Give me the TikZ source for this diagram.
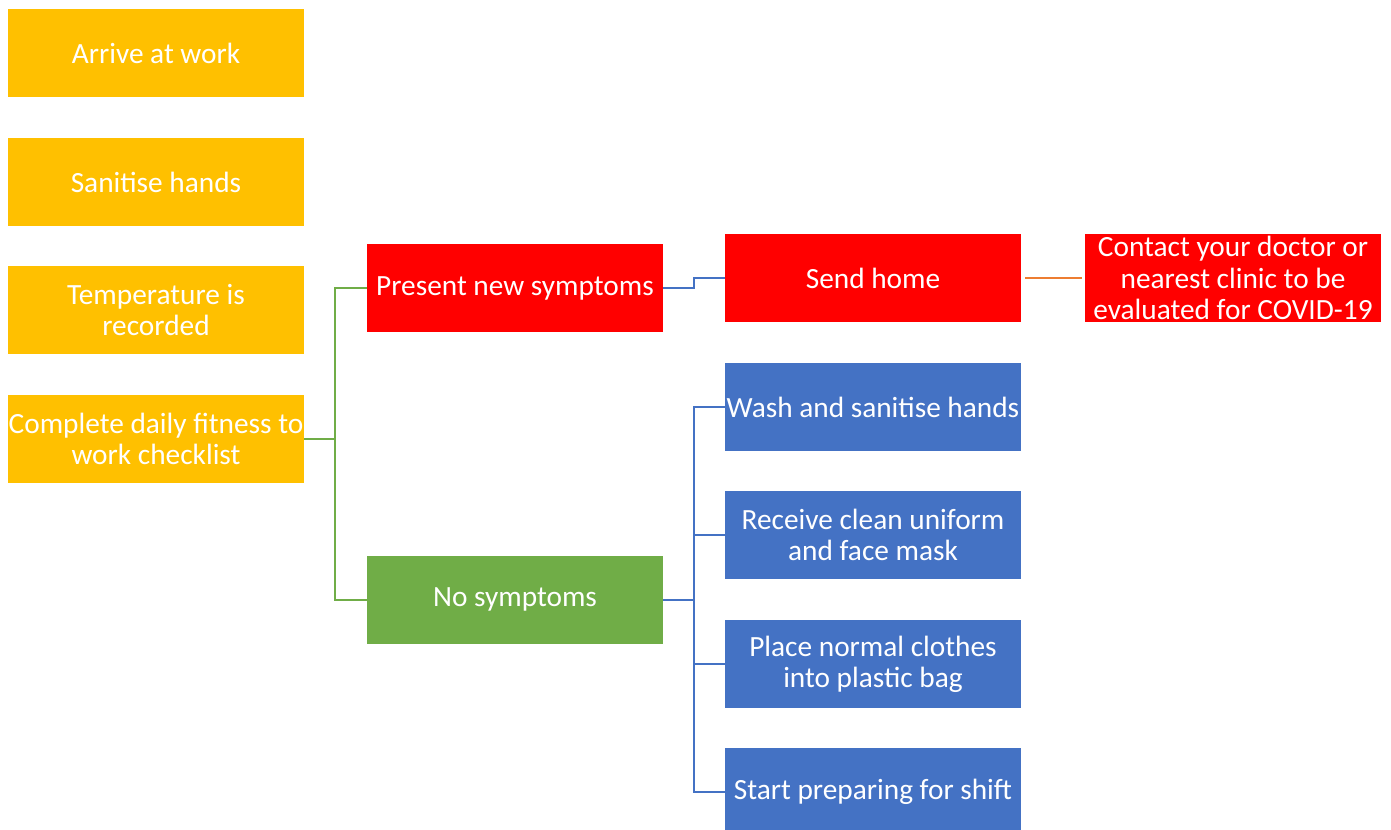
\documentclass[tikz,border=0pt]{standalone}
\usepackage{fontspec}
\setmainfont{Carlito}
\definecolor{boxorange}{HTML}{FFC000}
\definecolor{boxred}{HTML}{FF0000}
\definecolor{boxgreen}{HTML}{70AD47}
\definecolor{boxblue}{HTML}{4472C4}
\definecolor{lineorange}{HTML}{ED7D31}
\begin{document}
\begin{tikzpicture}[x=0.75pt,y=-0.75pt,
	box/.style={minimum width=222pt,minimum height=66pt,inner sep=0pt,align=center,text=white,
		font=\fontsize{22pt}{23.5pt}\selectfont},
	link/.style={line width=1.5pt}]
	\useasboundingbox (0,0) rectangle (1391,830);
	% arrival steps
	\node[box,fill=boxorange] (arrive) at (156,53) {Arrive at work};
	\node[box,fill=boxorange] (sanitise) at (156,182) {Sanitise hands};
	\node[box,fill=boxorange] (temp) at (156,310) {Temperature is\\recorded};
	\node[box,fill=boxorange] (check) at (156,439) {Complete daily fitness to\\work checklist};
	% outcome
	\node[box,fill=boxred] (present) at (515,288) {Present new symptoms};
	\node[box,fill=boxgreen] (nosym) at (515,599.5) {No symptoms};
	\node[box,fill=boxred] (home) at (873,278) {Send home};
	\node[box,fill=boxred] (contact) at (1233,278) {Contact your doctor or\\nearest clinic to be\\evaluated for COVID-19};
	\node[box,fill=boxblue] (wash) at (873,407) {Wash and sanitise hands};
	\node[box,fill=boxblue] (uniform) at (873,535) {Receive clean uniform\\and face mask};
	\node[box,fill=boxblue] (bag) at (873,664) {Place normal clothes\\into plastic bag};
	\node[box,fill=boxblue] (shift) at (873,792) {Start preparing for shift};
	% connectors
	\draw[link,boxgreen] (check.east) -- ++(31,0) coordinate (gsplit);
	\draw[link,boxgreen] (gsplit) |- (present.west);
	\draw[link,boxgreen] (gsplit) |- (nosym.west);
	\draw[link,boxblue] (present.east) -- ++(31,0) |- (home.west);
	\draw[link,lineorange,shorten <=3pt,shorten >=2pt] (home.east) -- (contact.west);
	\draw[link,boxblue] (nosym.east) -- ++(31,0) coordinate (bsplit);
	\foreach \n in {wash,uniform,bag,shift}
		\draw[link,boxblue] (bsplit) |- (\n.west);
\end{tikzpicture}
\end{document}
